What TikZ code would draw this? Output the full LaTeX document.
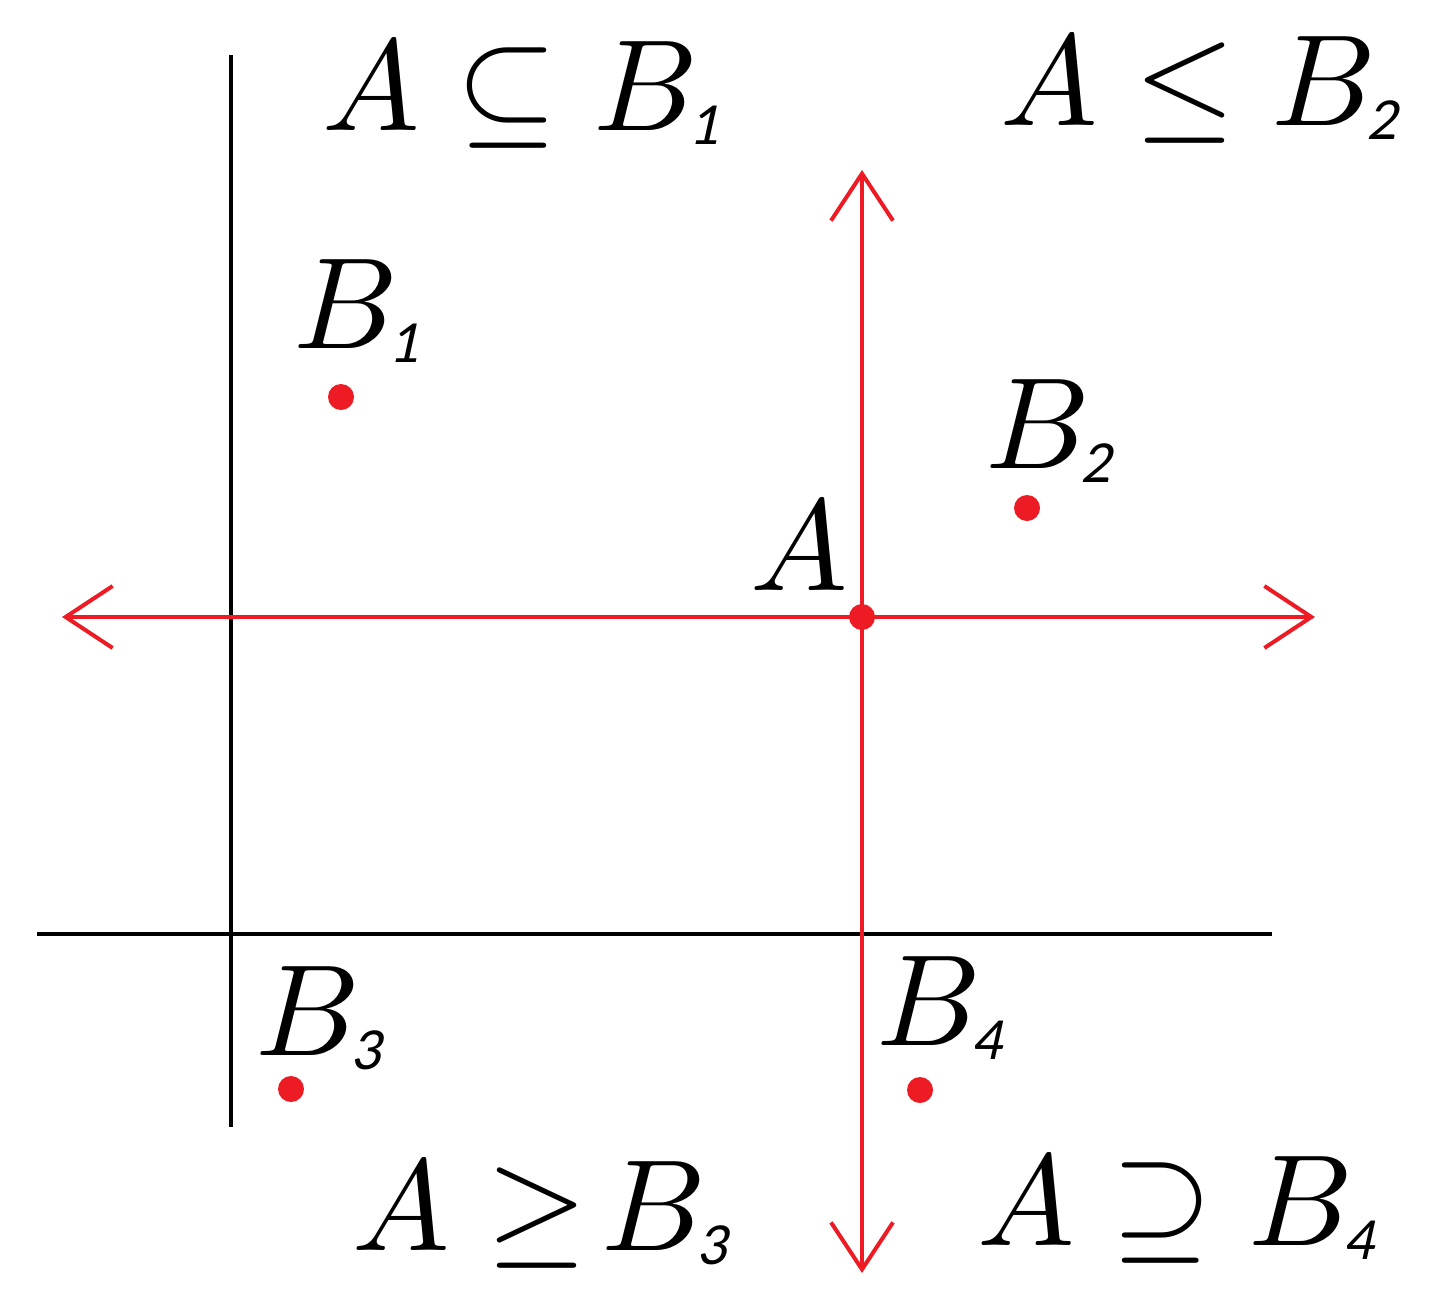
\documentclass[tikz,border=0pt]{standalone}
\usepackage{fontspec}
\newfontfamily\subfont{Carlito}[FakeSlant=0.22]
\usetikzlibrary{arrows.meta}
\definecolor{myred}{HTML}{ED1C24}
\tikzset{
  blackline/.style={line width=4pt, black},
  redaxis/.style={line width=4pt, myred, {Straight Barb[length=47pt, width=62pt, line width=4pt]}-{Straight Barb[length=47pt, width=62pt, line width=4pt]}},
  reddot/.style={circle, fill=myred, inner sep=0pt, minimum size=26pt},
  lbl/.style={anchor=base west, inner sep=0pt, font=\normalsize, scale=13},
}
\newcommand{\sbs}[1]{\kern-0.8pt\lower1.1pt\hbox{\fontsize{4.6}{5}\subfont #1}}
\begin{document}
\begin{tikzpicture}[x=1pt, y=-1pt]
\useasboundingbox (0,0) rectangle (1439,1301);
% black lines
\coordinate (vt) at (231,55);
\coordinate (vb) at (231,1127);
\coordinate (hl) at (37,934);
\coordinate (hr) at (1272,934);
\draw[blackline] (vt) -- (vb);
\draw[blackline] (hl) -- (hr);
% red axes
\coordinate (rl) at (62,617);
\coordinate (rr) at (1315,617);
\coordinate (rt) at (862,170);
\coordinate (rb) at (862,1273);
\draw[redaxis] (rl) -- (rr);
\draw[redaxis] (rb) -- (rt);
% dots
\node[reddot] (dA) at (862,617) {};
\node[reddot] (d1) at (341,397) {};
\node[reddot] (d2) at (1027,508) {};
\node[reddot] (d3) at (291,1089) {};
\node[reddot] (d4) at (920,1090) {};
% point labels
\node[lbl] (lB1) at (291,348) {$B\sbs{1}$};
\node[lbl] (lB2) at (983,468) {$B\sbs{2}$};
\node[lbl] (lA) at (748,590) {$A$};
\node[lbl] (lB3) at (253,1055) {$B\sbs{3}$};
\node[lbl] (lB4) at (874,1045) {$B\sbs{4}$};
% relation labels
\node[lbl] (r1) at (320,130) {$A\subseteq B\sbs{1}$};
\node[lbl] (r2) at (998,125) {$A\leq B\sbs{2}$};
\node[lbl] (r3) at (350,1250) {$A\geq\mkern-3mu B\sbs{3}$};
\node[lbl] (r4) at (975,1245) {$A\supseteq B\sbs{4}$};
\end{tikzpicture}
\end{document}
